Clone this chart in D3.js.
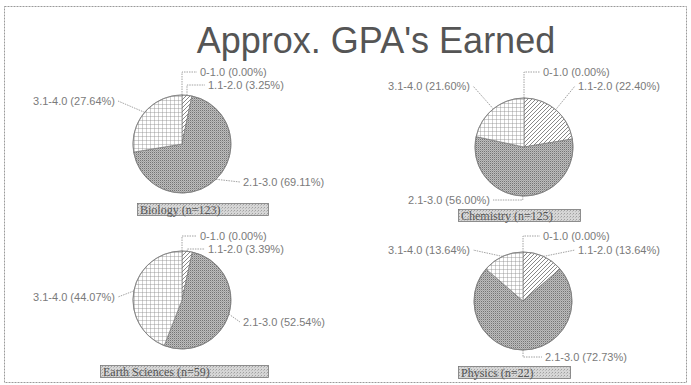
<!DOCTYPE html>
<html><head><meta charset="utf-8">
<script src="https://cdn.jsdelivr.net/npm/d3@7/dist/d3.min.js"></script>
<style>html,body{margin:0;padding:0;background:#fff;}svg{display:block;}</style>
</head><body>
<svg id="chart" width="691" height="385"></svg>
<script>
// ---- data ----
const chartTitle = "Approx. GPA's Earned";
const categories = ["0-1.0", "1.1-2.0", "2.1-3.0", "3.1-4.0"];
const subjects = ["Biology", "Chemistry", "Earth Sciences", "Physics"];
const nValues = [123, 125, 59, 22];
const biology = [0.00, 3.25, 69.11, 27.64];
const chemistry = [0.00, 22.40, 56.00, 21.60];
const earthSciences = [0.00, 3.39, 52.54, 44.07];
const physics = [0.00, 13.64, 72.73, 13.64];
const seriesValues = [biology, chemistry, earthSciences, physics];

// ---- layout (positions only) ----
const panels = [
  {cx:182, cy:144, r:49, box:{x:137,y:203,w:131,h:12},
   labels:[{x:200,y:72,a:"start",elbow:true},{x:208,y:85,a:"start",elbow:true},
           {x:243,y:182,a:"start",elbow:false},{x:115,y:101,a:"end",elbow:false}]},
  {cx:524, cy:147, r:49, box:{x:458,y:209,w:122,h:12},
   labels:[{x:543,y:72,a:"start",elbow:true},{x:578,y:86,a:"start",elbow:false},
           {x:490,y:200,a:"end",elbow:true},{x:470,y:86,a:"end",elbow:false}]},
  {cx:182, cy:300, r:49, box:{x:100,y:365,w:168,h:12},
   labels:[{x:200,y:236,a:"start",elbow:true},{x:208,y:249,a:"start",elbow:true},
           {x:243,y:322,a:"start",elbow:false},{x:115,y:297,a:"end",elbow:false}]},
  {cx:523, cy:301, r:49, box:{x:458,y:366,w:112,h:12},
   labels:[{x:543,y:236,a:"start",elbow:true},{x:578,y:250,a:"start",elbow:false},
           {x:545,y:357,a:"start",elbow:true},{x:470,y:250,a:"end",elbow:false}]}
];

const svg = d3.select("#chart");
const defs = svg.append("defs");

// patterns
function pat(id, w, h, bg, draw){
  const p = defs.append("pattern").attr("id", id).attr("patternUnits","userSpaceOnUse")
    .attr("width", w).attr("height", h);
  p.append("rect").attr("width", w).attr("height", h).attr("fill", bg);
  draw(p);
}
pat("p0", 4, 4, "#fff", p => {});
pat("p1", 4, 4, "#fff", p => p.append("path").attr("d","M-1,1 l2,-2 M0,4 l4,-4 M3,5 l2,-2")
  .attr("stroke","#6a6a6a").attr("stroke-width",0.8));
pat("p2", 2, 2, "#bcbcbc", p => { p.append("rect").attr("width",1).attr("height",1).attr("fill","#747474");
  p.append("rect").attr("x",1).attr("y",1).attr("width",1).attr("height",1).attr("fill","#a2a2a2"); });
pat("p3", 4, 4, "#fff", p => p.append("path").attr("d","M0,0 H4 M0,0 V4")
  .attr("stroke","#8a8a8a").attr("stroke-width",0.8));
pat("pbox", 3, 3, "#d6d6d6", p => { p.append("rect").attr("width",1).attr("height",1).attr("fill","#a0a0a0");
  p.append("rect").attr("x",2).attr("y",1).attr("width",1).attr("height",1).attr("fill","#bbbbbb"); });

const fillScale = d3.scaleOrdinal().domain(categories).range(["url(#p0)","url(#p1)","url(#p2)","url(#p3)"]);

// border
svg.append("rect").attr("x",4.5).attr("y",6.5).attr("width",682).attr("height",376)
  .attr("fill","none").attr("stroke","#9a9a9a").attr("stroke-width",1).attr("stroke-dasharray","2,1");

// title
svg.append("text").attr("x",376).attr("y",53).attr("text-anchor","middle")
  .attr("font-family","'Liberation Sans', Arial, sans-serif").attr("font-size",36)
  .attr("fill","#555").text(chartTitle);

const pie = d3.pie().sort(null).value(d => d.value);

panels.forEach((pl, i) => {
  const data = categories.map((c, k) => ({cat:c, value:seriesValues[i][k]}));
  const arcs = pie(data);
  const arc = d3.arc().innerRadius(0).outerRadius(pl.r);
  const edge = d3.arc().innerRadius(pl.r).outerRadius(pl.r);
  const g = svg.append("g").attr("transform", `translate(${pl.cx},${pl.cy})`);
  g.selectAll("path.slice").data(arcs.filter(d => d.value > 0)).join("path")
    .attr("class","slice").attr("d", arc).attr("fill", d => fillScale(d.data.cat))
    .attr("stroke","#7a7a7a").attr("stroke-width",0.7);
  g.append("circle").attr("r", pl.r).attr("fill","none").attr("stroke","#7a7a7a").attr("stroke-width",0.7);

  arcs.forEach((d, k) => {
    const L = pl.labels[k];
    const [ex, ey] = edge.centroid(d);
    const px = ex + pl.cx, py = ey + pl.cy;
    const sideX = L.a === "start" ? L.x - 3 : L.x + 3;
    const pts = L.elbow ? [[px,py],[px,L.y],[sideX,L.y]] : [[px,py],[sideX,L.y]];
    svg.append("path").attr("d", d3.line()(pts)).attr("fill","none")
      .attr("stroke","#8a8a8a").attr("stroke-width",0.8).attr("stroke-dasharray","1.5,1");
    svg.append("text").attr("x", L.x).attr("y", L.y).attr("dy","0.35em")
      .attr("text-anchor", L.a)
      .attr("font-family","'Liberation Sans', Arial, sans-serif").attr("font-size",11)
      .attr("fill","#7a7a7a")
      .text(`${d.data.cat} (${d.data.value.toFixed(2)}%)`);
  });

  const b = pl.box;
  svg.append("rect").attr("x",b.x+0.5).attr("y",b.y+0.5).attr("width",b.w).attr("height",b.h)
    .attr("fill","url(#pbox)").attr("stroke","#777").attr("stroke-width",0.8);
  svg.append("text").attr("x",b.x+3).attr("y",b.y+b.h/2+0.5).attr("dy","0.35em")
    .attr("font-family","'Liberation Serif', 'Times New Roman', serif").attr("font-size",12)
    .attr("fill","#555").text(`${subjects[i]} (n=${nValues[i]})`);
});
</script>
</body></html>
